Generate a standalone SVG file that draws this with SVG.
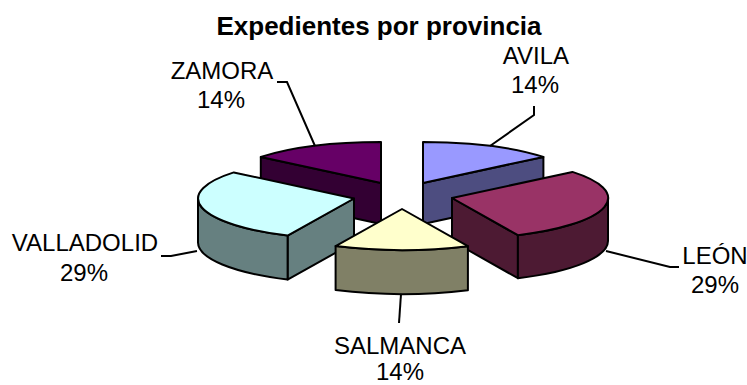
<svg xmlns="http://www.w3.org/2000/svg" width="747" height="385" viewBox="0 0 747 385">
<style>
.face{stroke:#000;stroke-width:2;stroke-linejoin:round}
.lbl{font-family:"Liberation Sans",Arial,sans-serif;font-size:24px;fill:#000;text-anchor:middle}
.title{font-family:"Liberation Sans",Arial,sans-serif;font-size:26px;font-weight:bold;fill:#000;text-anchor:middle}
.lead{fill:none;stroke:#000;stroke-width:2}
</style>
<rect width="747" height="385" fill="#fff"/>
<text class="title" x="379" y="35">Expedientes por provincia</text>
<g id="zamora">
<path class="face" fill="#330033" d="M381,183 L260.8,156.9 L260.8,197.9 L381,224 Z"/>
<path class="face" fill="#660066" d="M381,183 L381,142 A156,41 0 0 0 260.8,156.9 Z"/>
</g>
<g id="avila">
<path class="face" fill="#4D4D80" d="M423,183 L543.4,156.9 L543.4,197.9 L423,224 Z"/>
<path class="face" fill="#9999FF" d="M423,183 L543.4,156.9 A156,41 0 0 0 423,142 Z"/>
</g>
<g id="valladolid">
<path class="face" fill="#668080" d="M354,198.5 L287.6,235.6 L287.6,279.6 L354,242.5 Z"/>
<path class="face" fill="#668080" d="M198,198.5 A156,41 0 0 0 287.6,235.6 L287.6,279.6 A156,41 0 0 1 198,242.5 Z"/>
<path class="face" fill="#CCFFFF" d="M354,198.5 L233.8,172.4 A156,41 0 0 0 287.6,235.6 Z"/>
</g>
<g id="leon">
<path class="face" fill="#4D1A33" d="M452,198 L517.9,235.2 L517.9,278.2 L452,241 Z"/>
<path class="face" fill="#4D1A33" d="M517.9,235.2 A156,41 0 0 0 608,198 L608,241 A156,41 0 0 1 517.9,278.2 Z"/>
<path class="face" fill="#993366" d="M452,198 L517.9,235.2 A156,41 0 0 0 572.4,171.9 Z"/>
</g>
<g id="salamanca">
<path class="face" fill="#808066" d="M335.6,246.1 A156,41 0 0 0 467.9,246.2 L467.9,290.2 A156,41 0 0 1 335.6,290.1 Z"/>
<path class="face" fill="#FFFFCC" d="M402,209 L335.6,246.1 A156,41 0 0 0 467.9,246.2 Z"/>
</g>
<g id="connectors">
<polyline class="lead" points="277,82 287,82 315,146"/>
<polyline class="lead" points="534,106 534,115 490,146"/>
<polyline class="lead" points="606,251 670,267 679,267"/>
<polyline class="lead" points="161,256 171,256 197,251"/>
<polyline class="lead" points="399,323 401,294"/>
</g>
<g id="labels">
<text class="lbl" x="222" y="79">ZAMORA</text>
<text class="lbl" x="221" y="108">14%</text>
<text class="lbl" x="536" y="64">AVILA</text>
<text class="lbl" x="535" y="93">14%</text>
<text class="lbl" x="85" y="251">VALLADOLID</text>
<text class="lbl" x="84" y="281">29%</text>
<text class="lbl" x="715" y="264">LEÓN</text>
<text class="lbl" x="715" y="293">29%</text>
<text class="lbl" x="400" y="354">SALMANCA</text>
<text class="lbl" x="400" y="380">14%</text>
</g>
</svg>
